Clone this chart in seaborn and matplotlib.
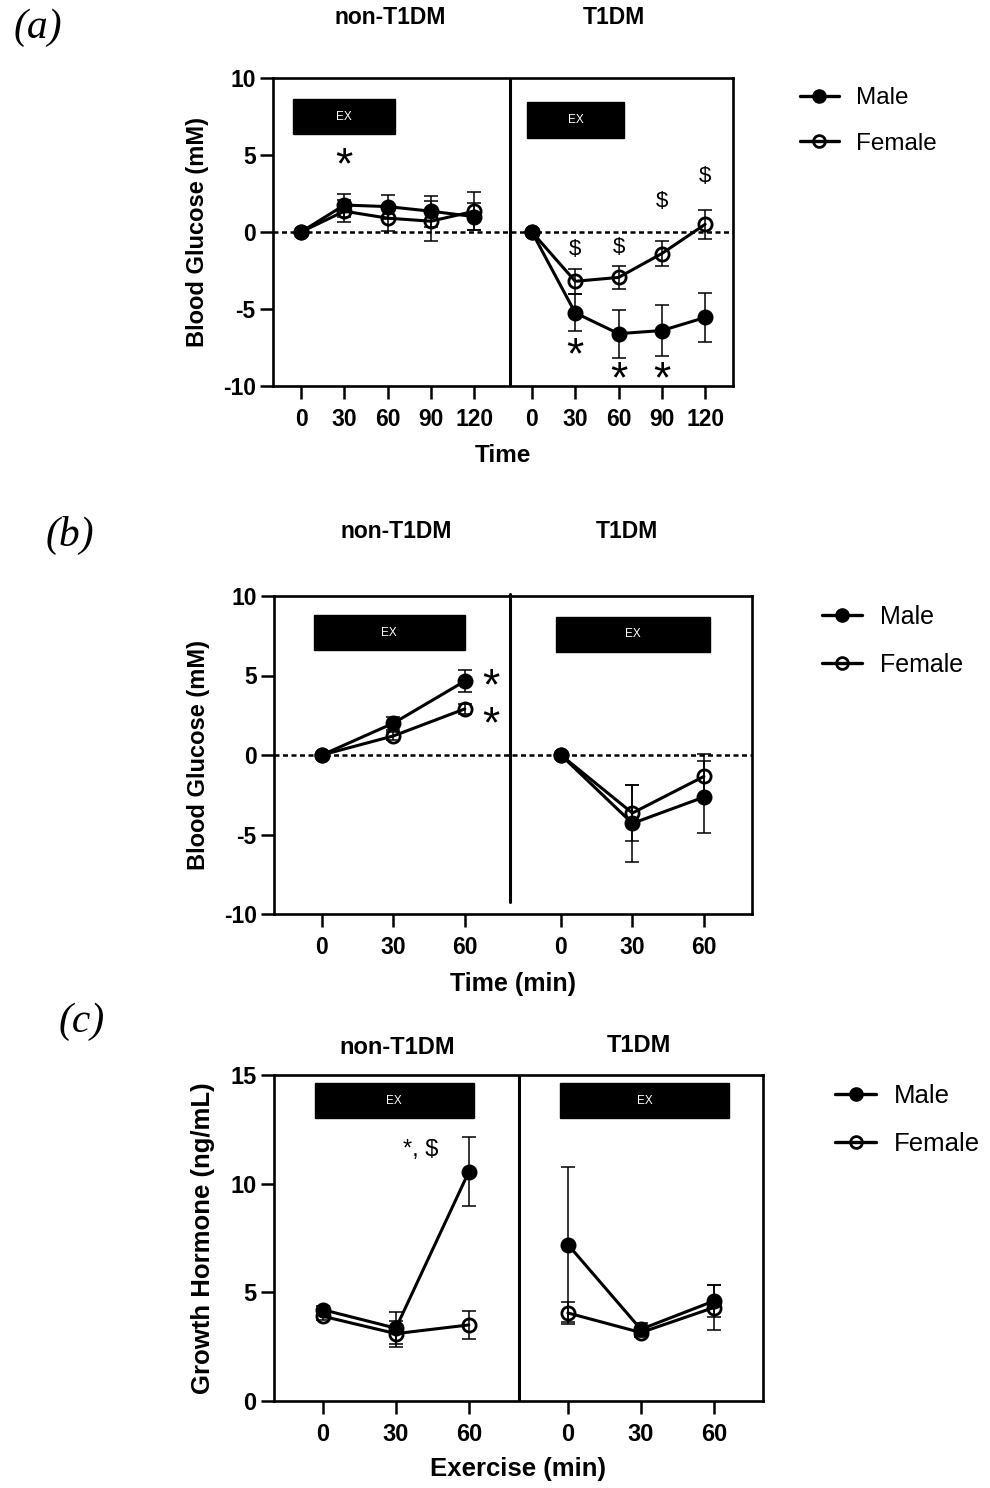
import numpy as np
import pandas as pd
import seaborn as sns
import matplotlib.pyplot as plt
from matplotlib.lines import Line2D
from matplotlib.patches import Rectangle

sns.set_style('ticks', rc={'axes.edgecolor': 'black', 'xtick.color': 'black',
                           'ytick.color': 'black', 'text.color': 'black',
                           'axes.labelcolor': 'black'})
plt.rcParams['font.family'] = ['Liberation Sans', 'DejaVu Sans']
plt.rcParams['axes.unicode_minus'] = False

groups = ['non-T1DM', 'T1DM']
sexes = ['Male', 'Female']

# (a) blood glucose change, 0-120 min
time_a = [0, 30, 60, 90, 120]
a_non_male = [0, 1.75, 1.65, 1.35, 1.0]
a_non_male_err = [0, 0.75, 0.78, 1.0, 0.9]
a_non_female = [0, 1.35, 0.9, 0.7, 1.35]
a_non_female_err = [0, 0.7, 0.85, 1.3, 1.25]
a_t1_male = [0, -5.25, -6.6, -6.4, -5.55]
a_t1_male_err = [0, 1.2, 1.55, 1.65, 1.6]
a_t1_female = [0, -3.2, -2.95, -1.4, 0.5]
a_t1_female_err = [0, 0.8, 0.75, 0.8, 0.95]

# (b) blood glucose change, 0-60 min
time_b = [0, 30, 60]
b_non_male = [0, 2.0, 4.65]
b_non_male_err = [0, 0.4, 0.68]
b_non_female = [0, 1.2, 2.9]
b_non_female_err = [0, 0.25, 0.3]
b_t1_male = [0, -4.3, -2.65]
b_t1_male_err = [0, 2.4, 2.25]
b_t1_female = [0, -3.65, -1.35]
b_t1_female_err = [0, 1.75, 1.4]

# (c) growth hormone
time_c = [0, 30, 60]
c_non_male = [4.2, 3.35, 10.55]
c_non_male_err = [0.15, 0.75, 1.6]
c_non_female = [3.9, 3.1, 3.5]
c_non_female_err = [0.15, 0.6, 0.65]
c_t1_male = [7.2, 3.3, 4.6]
c_t1_male_err = [3.55, 0.3, 0.75]
c_t1_female = [4.05, 3.15, 4.3]
c_t1_female_err = [0.5, 0.2, 1.05]


def long_table(times, offset, series):
    rows = []
    for (group, sex), (vals, errs) in series.items():
        off = 0 if group == 'non-T1DM' else offset
        for t, v, e in zip(times, vals, errs):
            rows.append(dict(group=group, sex=sex, time=t, pos=t + off, value=v, err=e))
    return pd.DataFrame(rows)


df_a = long_table(time_a, 160, {
    ('non-T1DM', 'Male'): (a_non_male, a_non_male_err),
    ('non-T1DM', 'Female'): (a_non_female, a_non_female_err),
    ('T1DM', 'Male'): (a_t1_male, a_t1_male_err),
    ('T1DM', 'Female'): (a_t1_female, a_t1_female_err)})
df_b = long_table(time_b, 100.3, {
    ('non-T1DM', 'Male'): (b_non_male, b_non_male_err),
    ('non-T1DM', 'Female'): (b_non_female, b_non_female_err),
    ('T1DM', 'Male'): (b_t1_male, b_t1_male_err),
    ('T1DM', 'Female'): (b_t1_female, b_t1_female_err)})
df_c = long_table(time_c, 100.7, {
    ('non-T1DM', 'Male'): (c_non_male, c_non_male_err),
    ('non-T1DM', 'Female'): (c_non_female, c_non_female_err),
    ('T1DM', 'Male'): (c_t1_male, c_t1_male_err),
    ('T1DM', 'Female'): (c_t1_female, c_t1_female_err)})

W, H = 990, 1488
fig = plt.figure(figsize=(W / 100, H / 100), dpi=100)


def px_axes(l, t, r, b):
    return fig.add_axes([l / W, 1 - b / H, (r - l) / W, (b - t) / H])


def fx(x):
    return x / W


def fy(y):
    return 1 - y / H


def star(ax, x, y, fs=32):
    # put the middle of the asterisk glyph on (x, y)
    ax.annotate('*', (x, y), xytext=(0, -0.48 * fs), textcoords='offset points',
                fontsize=fs, ha='center', va='baseline')


def draw(ax, df, xlim, divider, ylim, yticks, boxes, fs, zero=True, div_span=None):
    for sex in ['Female', 'Male']:
        for group in groups:
            d = df[(df.sex == sex) & (df.group == group)]
            ax.errorbar(d.pos, d.value, yerr=d.err, fmt='none', ecolor='black',
                        elinewidth=1.1, capsize=5, capthick=1.1, zorder=2)
            sns.lineplot(data=d, x='pos', y='value', ax=ax, color='black',
                         linewidth=2.2, marker='o', markersize=9.5,
                         markerfacecolor='black' if sex == 'Male' else 'none',
                         markeredgecolor='black', markeredgewidth=2,
                         errorbar=None, legend=False, zorder=3)
    if zero:
        ax.axhline(0, color='black', lw=1.8, ls=(0, (2, 1.4)), zorder=1)
    if div_span is None:
        ax.axvline(divider, color='black', lw=2.2, zorder=1)
    else:
        ax.plot([divider, divider], div_span, color='black', lw=2.2, clip_on=False, zorder=1)
    for (x0, x1, y0, y1) in boxes:
        ax.add_patch(Rectangle((x0, y0), x1 - x0, y1 - y0, color='black', zorder=4))
        ax.text((x0 + x1) / 2, (y0 + y1) / 2, 'EX', color='white', fontsize=8.5,
                ha='center', va='center', zorder=5)
    ax.set_xlim(*xlim)
    ax.set_ylim(*ylim)
    pos = sorted(df.pos.unique())
    ax.set_xticks(pos)
    ax.set_xticklabels([str(t) for t in df.sort_values('pos').drop_duplicates('pos').time])
    ax.set_yticks(yticks)
    ax.tick_params(axis='both', length=9.5, width=1.8, labelsize=fs, direction='out')
    ax.tick_params(axis='x', pad=6)
    ax.tick_params(axis='y', pad=3)
    for lbl in ax.get_xticklabels() + ax.get_yticklabels():
        lbl.set_fontweight('bold')
    for sp in ax.spines.values():
        sp.set_linewidth(1.9)
        sp.set_color('black')


def legend(x, y, fs):
    h = [Line2D([], [], color='black', lw=2.4, marker='o', ms=8.5, mfc='black', mec='black', mew=2),
         Line2D([], [], color='black', lw=2.4, marker='o', ms=8.5, mfc='none', mec='black', mew=2)]
    fig.legend(h, sexes, loc='center left', bbox_to_anchor=(fx(x), fy(y)), frameon=False,
               fontsize=fs, handlelength=1.6, handletextpad=0.7, labelspacing=0.95,
               borderpad=0, borderaxespad=0)


# ---------- (a) ----------
ax_a = px_axes(273, 78, 733, 386)
draw(ax_a, df_a, (-19.4, 299.3), 144.8, (-10, 10), [-10, -5, 0, 5, 10],
     [(-5.5, 65.1, 6.36, 8.64), (156.7, 224, 6.1, 8.44)], 16.5)
ax_a.set_xlabel('Time', fontsize=17.5, fontweight='bold', labelpad=10)
ax_a.set_ylabel('Blood Glucose (mM)', fontsize=17, fontweight='bold', labelpad=10)
star(ax_a, 30, 4.9)
for xx, yy in [(190, -1.15), (220, -1.0), (250, 2.0), (280, 3.6)]:
    ax_a.text(xx, yy, '$', fontsize=16, ha='center', va='center')
for xx, yy in [(190, -7.5), (220, -9.05), (250, -9.05)]:
    star(ax_a, xx, yy)
fig.text(fx(390), fy(18), 'non-T1DM', fontsize=16.5, fontweight='bold', ha='center', va='center')
fig.text(fx(614), fy(18), 'T1DM', fontsize=16.5, fontweight='bold', ha='center', va='center')
fig.text(fx(14), fy(28), '(a)', fontsize=30, style='italic', family='Liberation Serif', va='center')
legend(800, 121, 17.5)

# ---------- (b) ----------
ax_b = px_axes(274, 596, 752, 914)
draw(ax_b, df_b, (-20.1, 180.5), 78.9, (-10, 10), [-10, -5, 0, 5, 10],
     [(-3.4, 60, 6.6, 8.8), (98.2, 162.8, 6.48, 8.68)], 16.5, div_span=[10.15, -9.25])
ax_b.set_xlabel('Time (min)', fontsize=18, fontweight='bold', labelpad=10)
ax_b.set_ylabel('Blood Glucose (mM)', fontsize=17, fontweight='bold', labelpad=10)
star(ax_b, 71, 4.85)
star(ax_b, 71, 2.45)
fig.text(fx(396), fy(532), 'non-T1DM', fontsize=16.5, fontweight='bold', ha='center', va='center')
fig.text(fx(627), fy(532), 'T1DM', fontsize=16.5, fontweight='bold', ha='center', va='center')
fig.text(fx(46), fy(535), '(b)', fontsize=30, style='italic', family='Liberation Serif', va='center')
legend(822, 641, 18)

# ---------- (c) ----------
ax_c = px_axes(274, 1075, 763, 1401)
draw(ax_c, df_c, (-20.1, 180.9), 80.6, (0, 15), [0, 5, 10, 15],
     [(-3.3, 62, 13.02, 14.63), (97.4, 166.9, 13.02, 14.63)], 17, zero=False)
ax_c.set_xlabel('Exercise (min)', fontsize=18.5, fontweight='bold', labelpad=8)
ax_c.set_ylabel('Growth Hormone (ng/mL)', fontsize=18.5, fontweight='bold', labelpad=11)
ax_c.text(40, 11.55, '*, $', fontsize=17, ha='center', va='center')
fig.text(fx(397), fy(1048), 'non-T1DM', fontsize=17, fontweight='bold', ha='center', va='center')
fig.text(fx(639), fy(1046), 'T1DM', fontsize=17, fontweight='bold', ha='center', va='center')
fig.text(fx(59), fy(1022), '(c)', fontsize=30, style='italic', family='Liberation Serif', va='center')
legend(835, 1120, 18.5)

fig.savefig('out.png', dpi=100)
